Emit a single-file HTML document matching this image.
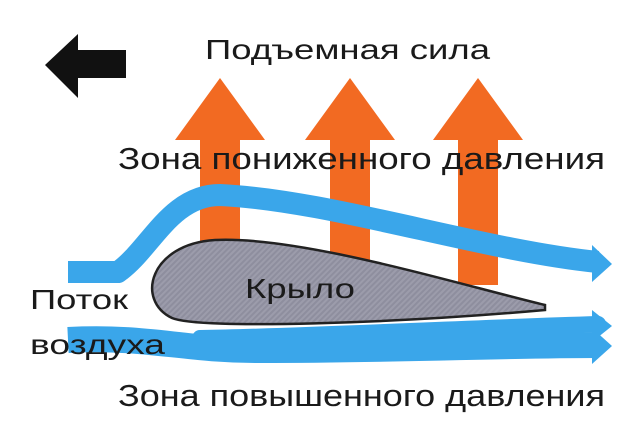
<!DOCTYPE html>
<html><head><meta charset="utf-8"><style>
html,body{margin:0;padding:0;background:#fff;}
svg{display:block;}
text{font-family:"Liberation Sans",sans-serif;fill:#1a1a1a;}
</style></head><body>
<svg width="640" height="435" viewBox="0 0 640 435" xmlns="http://www.w3.org/2000/svg">
<defs>
<pattern id="h" width="4" height="4" patternUnits="userSpaceOnUse" patternTransform="rotate(45)">
<rect width="4" height="4" fill="#9c9cab"/><rect width="2" height="4" fill="#8e8e9e"/>
</pattern>
</defs>
<rect width="640" height="435" fill="#fff"/>
<polygon points="45,65 78,34 78,50 126,50 126,78 78,78 78,98" fill="#111"/>
<g fill="#f26a22">
<polygon points="220,78 265,140 240,140 240,245 200,245 200,140 175,140"/>
<polygon points="350,78 395,140 370,140 370,260 330,260 330,140 305,140"/>
<polygon points="478,78 523,140 498,140 498,285 458,285 458,140 433,140"/>
</g>
<text x="205" y="59" font-size="28" textLength="285" lengthAdjust="spacingAndGlyphs">Подъемная сила</text>
<text x="118" y="169" font-size="31" textLength="487" lengthAdjust="spacingAndGlyphs">Зона пониженного давления</text>
<g fill="none" stroke="#3aa6ea" stroke-width="22" stroke-linejoin="round">
<path d="M68,272 L118,272 C150,250 170,195 220,195 C330,200 480,250 598,262"/>
<path d="M68,340 C150,336 180,350 260,350 C400,350 500,345 598,345" stroke-width="26"/>
<path d="M200,338 C320,336 460,328 598,324" stroke-width="16" stroke-linecap="round"/>
</g>
<g fill="#3aa6ea">
<polygon points="592,245 612,264 592,282"/>
<polygon points="592,310 612,326 592,342"/>
<polygon points="592,328 612,346 592,364"/>
</g>
<path d="M545,305 C450,282 300,236 215,240 C150,244 135,300 172,318 C200,330 400,323 545,310 Z" fill="url(#h)" stroke="#222" stroke-width="2.5"/>
<text x="245" y="298" font-size="28" textLength="110" lengthAdjust="spacingAndGlyphs">Крыло</text>
<text x="30" y="309" font-size="28" textLength="98" lengthAdjust="spacingAndGlyphs">Поток</text>
<text x="30" y="354" font-size="28" textLength="135" lengthAdjust="spacingAndGlyphs">воздуха</text>
<text x="118" y="406" font-size="31" textLength="487" lengthAdjust="spacingAndGlyphs">Зона повышенного давления</text>
</svg>
</body></html>
